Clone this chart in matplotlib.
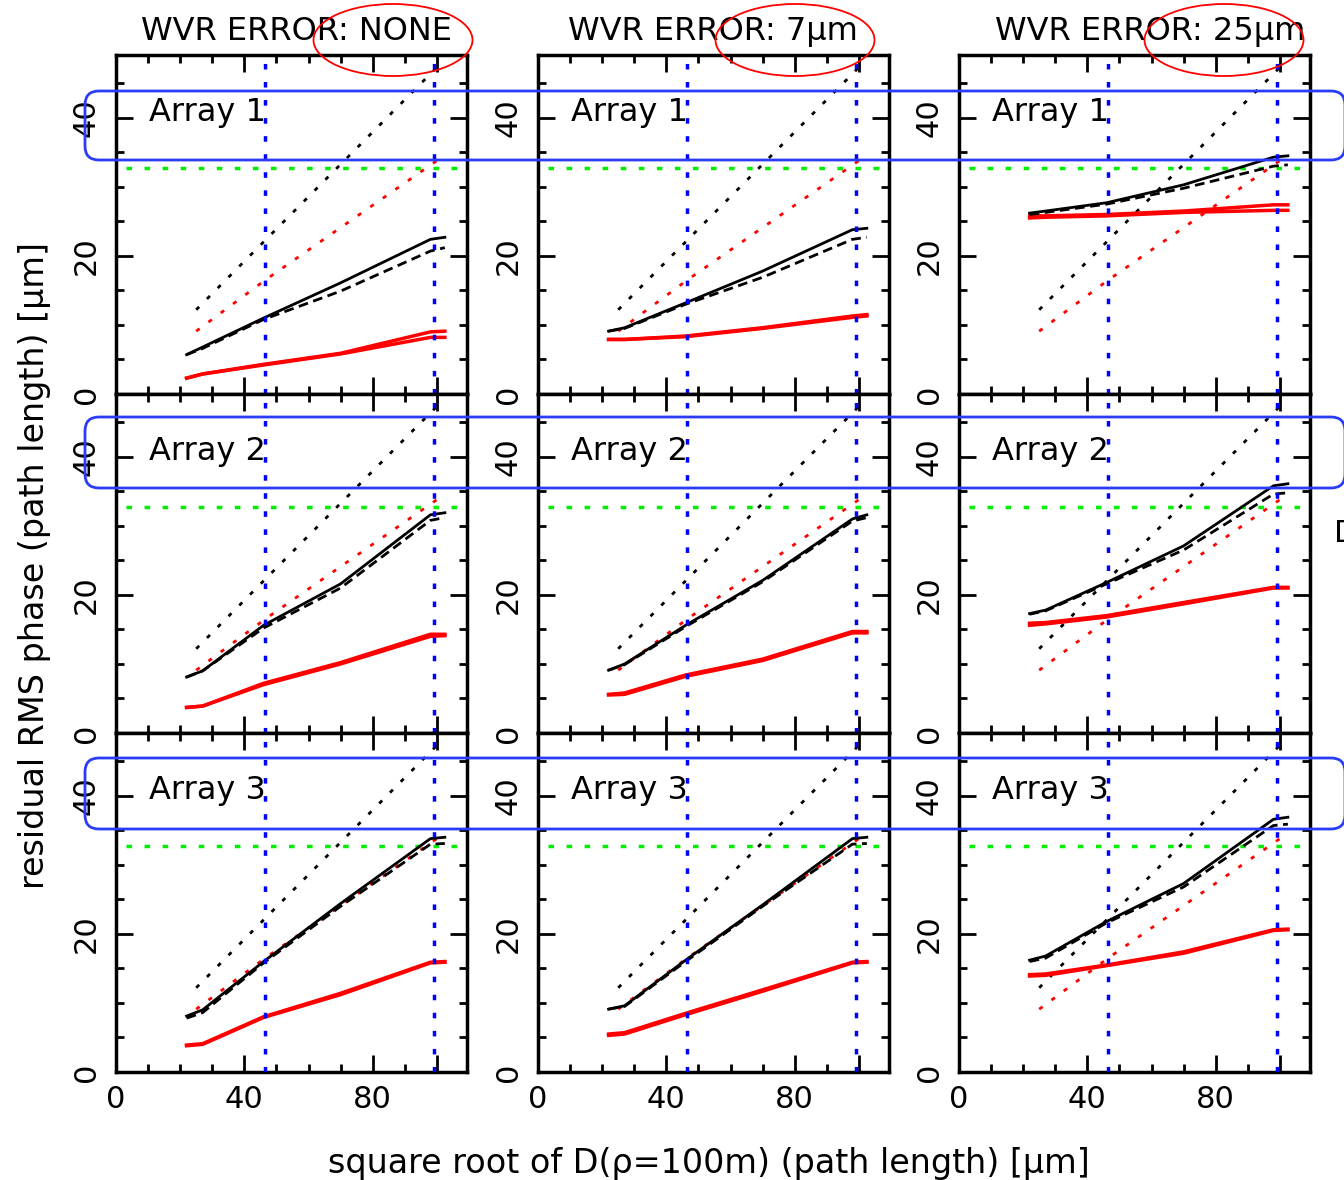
import numpy as np
import matplotlib
matplotlib.use("Agg")
import matplotlib.pyplot as plt
from matplotlib.patches import FancyBboxPatch, Ellipse

plt.rcParams['font.family'] = ['DejaVu Sans']
plt.rcParams['lines.scale_dashes'] = False

# column titles / row labels
wvr_errors = ['NONE', '7\u03bcm', '25\u03bcm']
arrays = ['Array 1', 'Array 2', 'Array 3']

# x positions of the model curves (sqrt of structure function, um)
x_pts = [22, 27, 46, 70, 98, 102.5]

# residual rms phase, panels in order row by row (Array 1..3) x (NONE, 7um, 25um)
black_solid = [
    [5.7, 6.8, 11.0, 16.1, 22.4, 22.7], [9.1, 9.6, 13.2, 17.8, 23.8, 24.0], [26.2, 26.5, 27.7, 30.3, 34.3, 34.5],
    [8.1, 9.0, 15.6, 21.6, 31.6, 31.9], [9.1, 10.0, 15.6, 22.1, 31.0, 31.6], [17.3, 17.8, 21.8, 27.1, 35.8, 36.1],
    [8.1, 9.0, 16.0, 24.4, 33.8, 34.0], [9.1, 9.6, 16.2, 24.2, 33.8, 34.0], [16.2, 16.8, 21.8, 27.3, 36.6, 36.9],
]
black_dashed = [
    [5.7, 6.6, 10.8, 14.9, 20.7, 21.2], [9.1, 9.5, 13.0, 16.9, 22.4, 22.7], [26.0, 26.3, 27.5, 29.8, 33.0, 33.2],
    [8.1, 9.0, 15.2, 21.0, 30.8, 31.2], [9.1, 9.9, 15.4, 21.9, 30.7, 31.2], [17.2, 17.7, 21.6, 26.5, 34.6, 34.8],
    [7.8, 8.6, 15.8, 24.0, 33.0, 33.1], [9.1, 9.5, 16.0, 24.0, 33.0, 33.1], [16.0, 16.5, 21.6, 26.8, 35.7, 35.9],
]
red_a = [
    [2.3, 2.9, 4.3, 5.9, 9.0, 9.1], [7.9, 7.9, 8.4, 9.6, 11.3, 11.5], [25.8, 25.8, 26.0, 26.5, 27.4, 27.4],
    [3.7, 3.9, 7.2, 10.2, 14.3, 14.3], [5.6, 5.8, 8.4, 10.7, 14.7, 14.7], [15.9, 16.0, 17.0, 18.9, 21.1, 21.1],
    [3.9, 4.1, 8.0, 11.4, 15.9, 16.0], [5.5, 5.7, 8.5, 11.9, 15.9, 16.0], [14.1, 14.2, 15.5, 17.4, 20.6, 20.7],
]
red_b = [
    [2.3, 2.9, 4.2, 5.8, 8.2, 8.2], [7.9, 7.9, 8.3, 9.5, 11.1, 11.3], [25.5, 25.6, 25.8, 26.3, 26.6, 26.6],
    [3.7, 3.9, 7.0, 10.0, 14.0, 14.1], [5.5, 5.6, 8.2, 10.5, 14.5, 14.5], [15.6, 15.8, 16.8, 18.7, 21.0, 21.0],
    [3.8, 4.0, 7.9, 11.2, 15.8, 15.9], [5.3, 5.5, 8.3, 11.7, 15.8, 15.9], [13.9, 14.0, 15.4, 17.2, 20.5, 20.6],
]

# reference lines (same in every panel)
ref_black_x = [25, 100]
ref_black_y = [12.2, 47.3]
ref_red_x = [25, 46.5, 100]
ref_red_y = [9.1, 16.5, 33.8]
green_level = 32.7
blue_x = [46.5, 99.0]

W, H = 1344, 1180
fig = plt.figure(figsize=(W / 100, H / 100), dpi=100)

lefts = [116, 538, 959]
tops = [55, 394, 733]
pw, ph = 351, 339
title_right = [452, 858, 1305]

for r in range(3):
    for c in range(3):
        k = r * 3 + c
        ax = fig.add_axes([lefts[c] / W, 1 - (tops[r] + ph) / H, pw / W, ph / H])
        ax.set_xlim(0, 109.4)
        ax.set_ylim(0, 49.1)

        ax.plot(ref_black_x, ref_black_y, color='black', lw=2, dashes=(3, 8))
        ax.plot(ref_red_x, ref_red_y, color='red', lw=2, dashes=(3, 8))
        ax.plot([3, 107], [green_level] * 2, color='#00ee00', lw=2.5, dashes=(4, 9))

        ax.plot(x_pts, red_a[k], color='red', lw=2.5)
        ax.plot(x_pts, red_b[k], color='red', lw=2.5)
        ax.plot(x_pts, black_solid[k], color='black', lw=2)
        ax.plot(x_pts, black_dashed[k], color='black', lw=2, dashes=(7, 4))

        for bx in blue_x:
            ax.axvline(bx, color='blue', lw=2.5, dashes=(4, 9), zorder=5)

        ax.text(10.3, 40.7, arrays[r], fontsize=23, va='center', ha='left')

        for s in ax.spines.values():
            s.set_linewidth(2.5)
        ax.set_xticks([0, 40, 80, 100])
        ax.set_xticks(np.arange(0, 110, 10), minor=True)
        ax.set_yticks([0, 20, 40])
        ax.set_yticks(np.arange(0, 50, 5), minor=True)
        ax.tick_params(which='both', direction='in', top=True, right=True, width=2)
        ax.tick_params(which='major', length=12, labelsize=22)
        ax.tick_params(which='minor', length=6)
        ax.tick_params(axis='y', pad=11)
        ax.tick_params(axis='x', pad=9)
        ax.set_yticklabels(['0', '20', '40'], rotation=90, va='center')
        if r == 2:
            ax.set_xticklabels(['0', '40', '80', ''])
        else:
            ax.set_xticklabels([])
        if r == 0:
            ax.text((title_right[c] - lefts[c]) / pw, 1.025, 'WVR ERROR: ' + wvr_errors[c],
                    transform=ax.transAxes, ha='right', va='bottom', fontsize=23)

fig.text(35 / W, 1 - 565 / H, 'residual RMS phase (path length) [\u03bcm]', rotation=90,
         ha='center', va='center', fontsize=24)
fig.text(709 / W, 1 - 1163 / H, 'square root of D(\u03c1=100m) (path length) [\u03bcm]',
         ha='center', va='center', fontsize=24)

# hand-drawn annotation overlay
ov = fig.add_axes([0, 0, 1, 1])
ov.set_xlim(0, W)
ov.set_ylim(H, 0)
ov.axis('off')
for y0, y1 in [(91, 160), (417, 488), (758, 829)]:
    ov.add_patch(FancyBboxPatch((85, y0), 1260, y1 - y0,
                                boxstyle='round,pad=0,rounding_size=14',
                                fill=False, edgecolor='#2a3cf5', lw=2))
for cx in [393, 795, 1224]:
    ov.add_patch(Ellipse((cx, 40), 159, 72, fill=False, edgecolor='red', lw=1.3))
ov.text(1334, 533, 'D', fontsize=22, ha='left', va='center')

fig.savefig('out.png', dpi=100)
